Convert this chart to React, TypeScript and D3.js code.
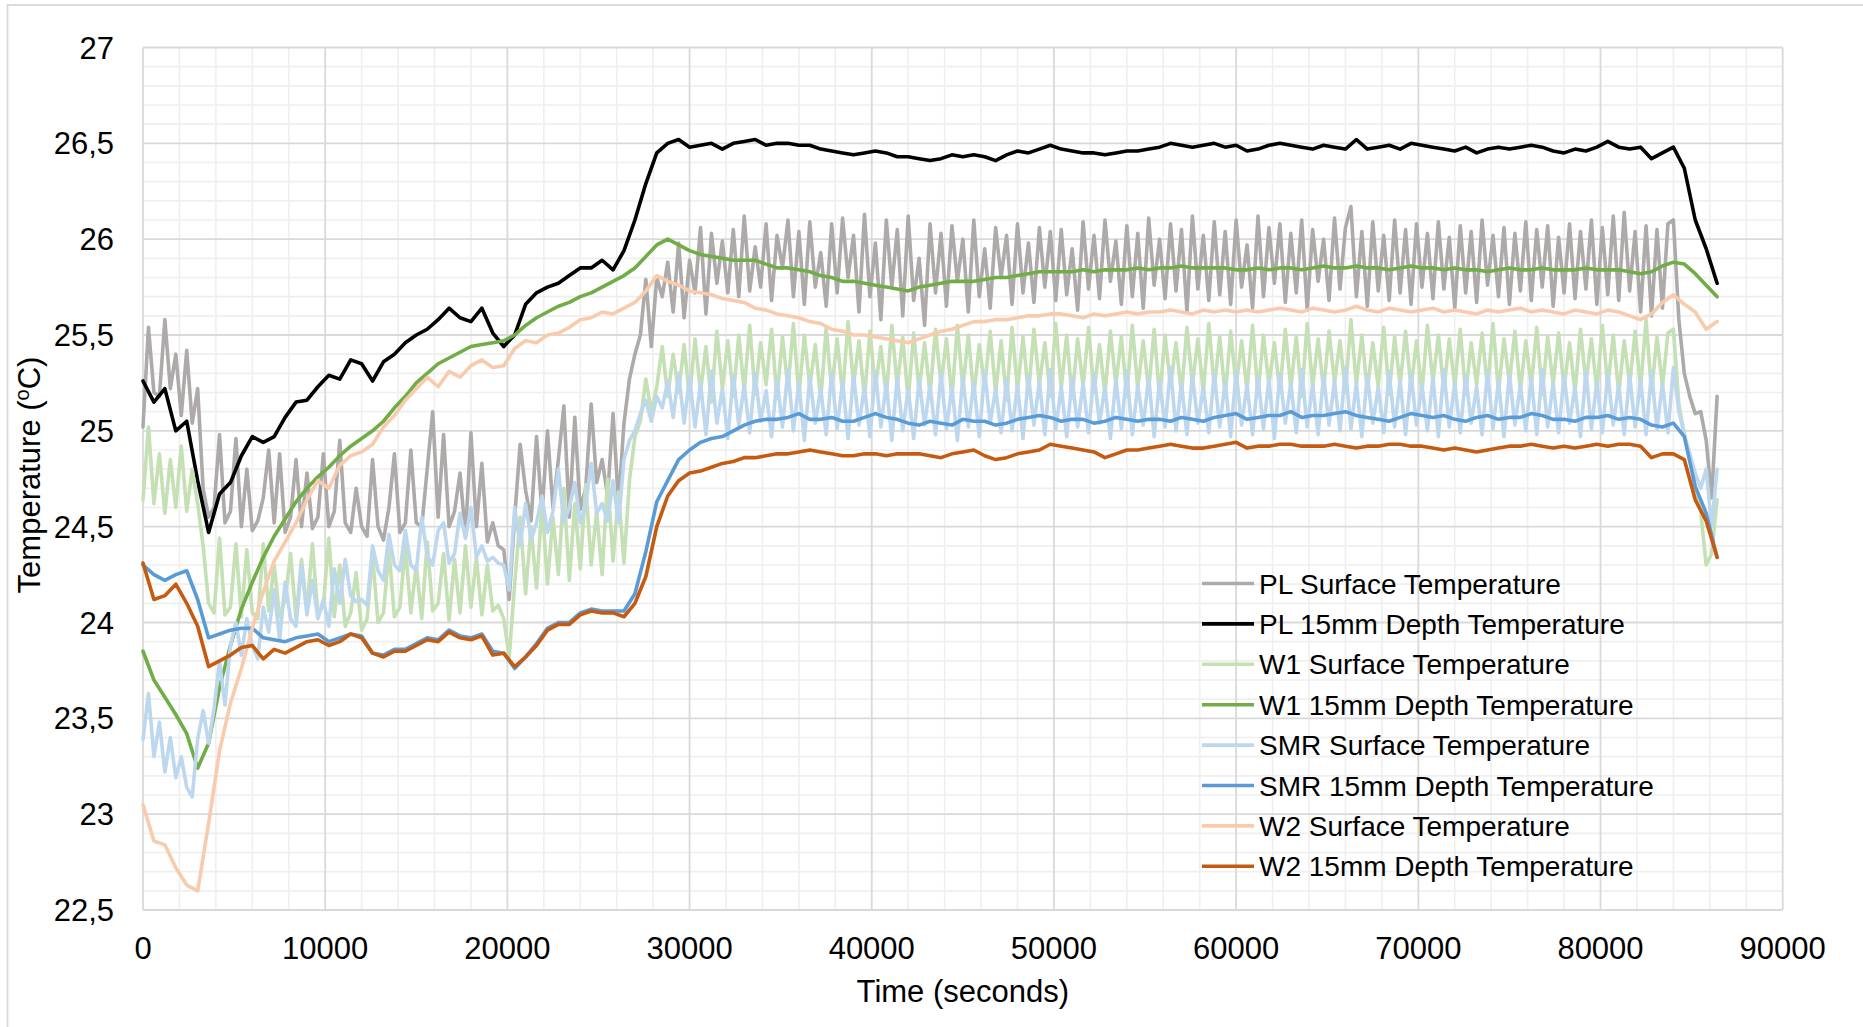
import React from "react";
import * as d3 from "d3";

// Logging intervals (seconds) of the two sensor groups
const SURFACE_STEP = 300;
const DEPTH_STEP = 600;

// PL Surface Temperature (every 300 s)
const plSurface = [
  25.02, 25.54, 25.20, 25.18, 25.58, 25.22, 25.40, 25.08, 25.42, 25.04,
  25.22, 24.70, 24.55, 24.60, 24.98, 24.52, 24.58, 24.96, 24.50, 24.80,
  24.48, 24.53, 24.65, 24.90, 24.52, 24.88, 24.47, 24.55, 24.85, 24.50,
  24.78, 24.49, 24.55, 24.88, 24.50, 24.58, 24.95, 24.52, 24.47, 24.70,
  24.50, 24.45, 24.85, 24.50, 24.43, 24.60, 24.88, 24.47, 24.52, 24.90,
  24.52, 24.50, 24.80, 25.10, 24.55, 24.98, 24.50, 24.58, 24.78, 24.45,
  24.99, 24.50, 24.83, 24.42, 24.52, 24.40, 24.38, 24.12, 24.55, 24.93,
  24.69, 24.53, 24.97, 24.57, 25.00, 24.60, 24.85, 25.13, 24.55, 25.07,
  24.59, 24.70, 25.14, 24.73, 24.85, 24.66, 25.09, 24.62, 25.04, 25.27,
  25.40, 25.50, 25.79, 25.44, 25.80, 25.70, 25.88, 25.62, 25.98, 25.59,
  25.89, 25.72, 26.06, 25.61, 26.03, 25.77, 25.99, 25.72, 26.05, 25.70,
  26.12, 25.73, 25.96, 25.75, 26.08, 25.68, 26.02, 25.85, 26.10, 25.70,
  26.04, 25.66, 26.09, 25.75, 25.93, 25.65, 26.08, 25.72, 26.11, 25.80,
  26.02, 25.62, 26.13, 25.70, 25.98, 25.58, 26.10, 25.75, 26.05, 25.60,
  26.12, 25.68, 25.90, 25.55, 26.08, 25.72, 26.03, 25.65, 26.07, 25.78,
  26.00, 25.62, 26.10, 25.70, 25.95, 25.64, 26.06, 25.80, 26.02, 25.66,
  26.08, 25.72, 25.98, 25.67, 26.06, 25.75, 26.04, 25.68, 26.05, 25.71,
  25.95, 25.63, 26.09, 25.74, 26.02, 25.69, 26.10, 25.78, 25.99, 25.66,
  26.07, 25.70, 26.03, 25.64, 26.11, 25.76, 26.00, 25.69, 26.08, 25.73,
  26.05, 25.62, 26.12, 25.74, 26.02, 25.68, 26.09, 25.71, 26.04, 25.66,
  26.10, 25.75, 25.97, 25.64, 26.12, 25.70, 26.06, 25.77, 26.08, 25.67,
  26.03, 25.72, 26.10, 25.63, 26.05, 25.78, 26.00, 25.68, 26.11, 25.74,
  26.06, 26.17, 25.70, 26.04, 25.65, 26.09, 25.73, 26.02, 25.68, 26.10,
  25.72, 26.05, 25.66, 26.08, 25.75, 26.03, 25.69, 26.09, 25.74, 26.01,
  25.64, 26.07, 25.72, 26.04, 25.67, 26.10, 25.76, 26.02, 25.70, 26.06,
  25.66, 26.03, 25.73, 26.09, 25.68, 26.05, 25.75, 26.07, 25.65, 26.01,
  25.72, 26.08, 25.69, 26.04, 25.74, 26.10, 25.66, 26.06, 25.71, 26.12,
  25.68, 26.14, 25.73, 26.04, 25.62, 26.07, 25.60, 26.05, 25.64, 26.08,
  26.10, 25.58, 25.30, 25.18, 25.09, 25.10, 24.95, 24.65, 25.18,
];

// PL 15mm Depth Temperature (every 600 s)
const plDepth = [
  25.26, 25.15, 25.22, 25.00, 25.05, 24.74, 24.47, 24.67, 24.73, 24.87,
  24.97, 24.94, 24.97, 25.07, 25.15, 25.16, 25.23, 25.29, 25.27, 25.37,
  25.35, 25.26, 25.36, 25.40, 25.46, 25.50, 25.53, 25.58, 25.64, 25.59,
  25.57, 25.64, 25.51, 25.44, 25.50, 25.66, 25.72, 25.75, 25.77, 25.81,
  25.85, 25.85, 25.89, 25.84, 25.94, 26.10, 26.29, 26.45, 26.50, 26.52,
  26.48, 26.49, 26.50, 26.47, 26.50, 26.51, 26.52, 26.49, 26.50, 26.50,
  26.49, 26.49, 26.47, 26.46, 26.45, 26.44, 26.45, 26.46, 26.45, 26.43,
  26.43, 26.42, 26.41, 26.42, 26.44, 26.43, 26.44, 26.43, 26.41, 26.44,
  26.46, 26.45, 26.47, 26.49, 26.47, 26.46, 26.45, 26.45, 26.44, 26.45,
  26.46, 26.46, 26.47, 26.48, 26.50, 26.49, 26.48, 26.49, 26.50, 26.48,
  26.49, 26.46, 26.47, 26.49, 26.50, 26.49, 26.48, 26.47, 26.49, 26.48,
  26.47, 26.52, 26.47, 26.48, 26.49, 26.47, 26.50, 26.49, 26.48, 26.47,
  26.46, 26.48, 26.45, 26.47, 26.48, 26.47, 26.48, 26.49, 26.48, 26.46,
  26.45, 26.47, 26.46, 26.48, 26.51, 26.48, 26.47, 26.48, 26.42, 26.45,
  26.48, 26.37, 26.10, 25.95, 25.77,
];

// W1 Surface Temperature (every 300 s)
const w1Surface = [
  24.64, 25.02, 24.62, 24.88, 24.57, 24.85, 24.60, 24.92, 24.58, 24.80,
  24.62, 24.40, 24.10, 24.05, 24.44, 24.04, 24.08, 24.41, 24.03, 24.38,
  24.05, 24.02, 24.41, 24.06, 24.30, 24.03, 24.12, 24.36, 24.02, 24.33,
  24.06, 24.41, 24.04, 24.09, 24.44, 24.03, 24.30, 23.98, 24.05, 24.26,
  23.96, 24.02, 24.35, 24.00, 24.05, 24.38, 24.03, 24.08, 24.40, 24.05,
  24.30, 24.02, 24.42, 24.06, 24.10, 24.36, 24.01, 24.33, 24.05, 24.40,
  24.08, 24.34, 24.04, 24.30, 24.06, 24.09, 24.02, 23.82, 24.20, 24.55,
  24.15, 24.50, 24.18, 24.62, 24.20, 24.55, 24.25, 24.70, 24.22, 24.62,
  24.28, 24.72, 24.30, 24.58, 24.25, 24.75, 24.32, 24.68, 24.31, 24.74,
  24.97, 25.05, 25.27, 25.10, 25.23, 25.44, 25.18, 25.40, 25.20, 25.45,
  25.17, 25.48, 25.20, 25.44, 25.15, 25.52, 25.22, 25.47, 25.18, 25.50,
  25.21, 25.55, 25.19, 25.46, 25.24, 25.53, 25.17, 25.49, 25.22, 25.56,
  25.18, 25.50, 25.23, 25.45, 25.16, 25.54, 25.21, 25.48, 25.19, 25.57,
  25.24, 25.47, 25.17, 25.52, 25.22, 25.44, 25.18, 25.55, 25.23, 25.49,
  25.16, 25.51, 25.21, 25.46, 25.19, 25.53, 25.24, 25.48, 25.17, 25.55,
  25.22, 25.50, 25.18, 25.45, 25.23, 25.52, 25.20, 25.47, 25.16, 25.54,
  25.21, 25.49, 25.19, 25.53, 25.24, 25.46, 25.18, 25.56, 25.22, 25.50,
  25.17, 25.48, 25.23, 25.54, 25.20, 25.45, 25.19, 25.52, 25.24, 25.49,
  25.18, 25.55, 25.22, 25.47, 25.21, 25.53, 25.17, 25.50, 25.23, 25.46,
  25.19, 25.54, 25.24, 25.48, 25.20, 25.56, 25.22, 25.49, 25.18, 25.52,
  25.23, 25.47, 25.21, 25.55, 25.19, 25.50, 25.24, 25.46, 25.20, 25.53,
  25.22, 25.49, 25.18, 25.56, 25.23, 25.48, 25.21, 25.52, 25.25, 25.47,
  25.20, 25.58, 25.24, 25.50, 25.21, 25.46, 25.23, 25.54, 25.19, 25.49,
  25.24, 25.52, 25.22, 25.47, 25.20, 25.55, 25.25, 25.50, 25.21, 25.48,
  25.23, 25.53, 25.19, 25.46, 25.24, 25.51, 25.22, 25.56, 25.20, 25.48,
  25.25, 25.52, 25.21, 25.47, 25.23, 25.54, 25.19, 25.49, 25.24, 25.51,
  25.22, 25.46, 25.20, 25.53, 25.25, 25.48, 25.21, 25.55, 25.23, 25.50,
  25.19, 25.47, 25.24, 25.52, 25.22, 25.58, 25.20, 25.49, 25.23, 25.51,
  25.53, 25.14, 24.98, 24.86, 24.70, 24.58, 24.30, 24.36, 24.64,
];

// W1 15mm Depth Temperature (every 600 s)
const w1Depth = [
  23.85, 23.70, 23.61, 23.52, 23.42, 23.24, 23.37, 23.66, 23.88, 24.07,
  24.21, 24.34, 24.45, 24.54, 24.63, 24.70, 24.76, 24.81, 24.87, 24.92,
  24.96, 25.00, 25.05, 25.12, 25.18, 25.25, 25.30, 25.35, 25.38, 25.41,
  25.44, 25.45, 25.46, 25.47, 25.50, 25.55, 25.59, 25.62, 25.65, 25.67,
  25.70, 25.72, 25.75, 25.78, 25.81, 25.85, 25.91, 25.97, 26.00, 25.97,
  25.94, 25.92, 25.91, 25.90, 25.89, 25.89, 25.89, 25.87, 25.85, 25.85,
  25.84, 25.83, 25.81, 25.80, 25.78, 25.78, 25.77, 25.76, 25.75, 25.74,
  25.73, 25.75, 25.76, 25.77, 25.78, 25.78, 25.78, 25.79, 25.80, 25.80,
  25.81, 25.82, 25.83, 25.83, 25.83, 25.83, 25.84, 25.83, 25.84, 25.84,
  25.84, 25.85, 25.84, 25.85, 25.85, 25.86, 25.85, 25.85, 25.85, 25.85,
  25.84, 25.84, 25.85, 25.84, 25.85, 25.85, 25.84, 25.85, 25.86, 25.85,
  25.85, 25.86, 25.85, 25.85, 25.84, 25.85, 25.86, 25.85, 25.85, 25.84,
  25.85, 25.84, 25.84, 25.83, 25.84, 25.85, 25.84, 25.84, 25.85, 25.84,
  25.84, 25.84, 25.85, 25.84, 25.84, 25.84, 25.83, 25.82, 25.83, 25.86,
  25.88, 25.87, 25.82, 25.76, 25.70,
];

// SMR Surface Temperature (every 300 s)
const smrSurface = [
  23.39, 23.63, 23.30, 23.48, 23.22, 23.40, 23.19, 23.30, 23.14, 23.09,
  23.39, 23.54, 23.37, 23.55, 23.80, 23.57, 23.88, 24.00, 23.83, 24.02,
  23.88, 23.81, 24.08, 23.95, 24.17, 23.91, 24.21, 24.02, 23.98, 24.30,
  24.04, 24.22, 24.02, 24.12, 23.98, 24.28, 24.10, 24.33, 24.14, 24.11,
  24.12, 24.09, 24.40, 24.27, 24.22, 24.46, 24.30, 24.27, 24.48, 24.30,
  24.27, 24.55, 24.35, 24.30, 24.48, 24.52, 24.31, 24.36, 24.57, 24.44,
  24.60, 24.34, 24.40, 24.32, 24.34, 24.31, 24.30, 24.17, 24.60, 24.40,
  24.62, 24.43, 24.52, 24.66, 24.47, 24.58, 24.80, 24.52, 24.60, 24.73,
  24.52, 24.62, 24.83, 24.57, 24.62, 24.53, 24.74, 24.52, 24.85, 24.95,
  25.00, 25.09, 25.16, 25.05, 25.18, 25.12, 25.26, 25.07, 25.30, 25.04,
  25.28, 25.02, 25.25, 24.98, 25.31, 25.04, 25.22, 24.96, 25.29, 25.03,
  25.24, 24.99, 25.30, 25.05, 25.21, 24.97, 25.27, 25.02, 25.32, 25.00,
  25.25, 24.95, 25.28, 25.04, 25.22, 24.98, 25.30, 25.01, 25.26, 24.96,
  25.29, 25.03, 25.23, 24.97, 25.31, 25.02, 25.25, 24.95, 25.28, 25.00,
  25.22, 24.96, 25.27, 25.03, 25.24, 24.98, 25.30, 25.01, 25.23, 24.95,
  25.28, 25.02, 25.25, 24.97, 25.31, 25.04, 25.22, 24.99, 25.27, 25.00,
  25.24, 24.96, 25.29, 25.03, 25.26, 24.98, 25.32, 25.01, 25.23, 24.97,
  25.28, 25.02, 25.25, 24.99, 25.30, 25.04, 25.23, 24.96, 25.27, 25.01,
  25.31, 24.98, 25.24, 25.03, 25.28, 24.97, 25.26, 25.02, 25.33, 25.00,
  25.25, 24.98, 25.29, 25.04, 25.23, 24.99, 25.30, 25.02, 25.26, 24.97,
  25.31, 25.03, 25.24, 24.98, 25.28, 25.01, 25.27, 24.96, 25.30, 25.04,
  25.25, 24.99, 25.32, 25.02, 25.24, 24.98, 25.29, 25.03, 25.26, 25.00,
  25.33, 25.01, 25.25, 24.97, 25.29, 25.04, 25.23, 24.99, 25.31, 25.02,
  25.26, 24.98, 25.30, 25.03, 25.24, 25.00, 25.28, 24.97, 25.32, 25.02,
  25.25, 24.99, 25.29, 25.04, 25.23, 24.98, 25.31, 25.01, 25.26, 24.97,
  25.30, 25.03, 25.24, 25.00, 25.28, 24.98, 25.32, 25.02, 25.25, 24.99,
  25.29, 25.04, 25.23, 24.97, 25.31, 25.01, 25.26, 24.99, 25.30, 25.03,
  25.24, 24.98, 25.29, 25.02, 25.27, 24.98, 25.31, 25.01, 25.25, 24.99,
  25.33, 25.10, 24.98, 24.88, 24.78, 24.70, 24.80, 24.50, 24.80,
];

// SMR 15mm Depth Temperature (every 600 s)
const smrDepth = [
  24.30, 24.25, 24.22, 24.25, 24.27, 24.12, 23.92, 23.94, 23.96, 23.97,
  23.97, 23.92, 23.91, 23.90, 23.92, 23.93, 23.94, 23.90, 23.92, 23.94,
  23.93, 23.84, 23.83, 23.86, 23.86, 23.89, 23.92, 23.91, 23.96, 23.93,
  23.92, 23.94, 23.85, 23.84, 23.76, 23.82, 23.89, 23.97, 24.00, 24.00,
  24.05, 24.07, 24.06, 24.06, 24.06, 24.15, 24.37, 24.63, 24.74, 24.85,
  24.90, 24.94, 24.96, 24.97, 25.00, 25.03, 25.05, 25.06, 25.06, 25.07,
  25.09, 25.06, 25.06, 25.07, 25.05, 25.05, 25.07, 25.09, 25.07, 25.06,
  25.04, 25.03, 25.05, 25.04, 25.03, 25.06, 25.05, 25.05, 25.03, 25.04,
  25.06, 25.07, 25.08, 25.07, 25.05, 25.06, 25.06, 25.04, 25.05, 25.07,
  25.06, 25.05, 25.06, 25.06, 25.05, 25.07, 25.06, 25.05, 25.07, 25.08,
  25.09, 25.06, 25.07, 25.08, 25.08, 25.10, 25.07, 25.08, 25.08, 25.09,
  25.10, 25.08, 25.07, 25.06, 25.05, 25.07, 25.09, 25.08, 25.07, 25.08,
  25.06, 25.05, 25.07, 25.08, 25.06, 25.07, 25.07, 25.09, 25.08, 25.06,
  25.06, 25.05, 25.07, 25.07, 25.08, 25.06, 25.07, 25.06, 25.03, 25.02,
  25.04, 24.97, 24.71, 24.57, 24.34,
];

// W2 Surface Temperature (every 600 s)
const w2Surface = [
  23.05, 22.86, 22.84, 22.72, 22.63, 22.60, 22.95, 23.33, 23.58, 23.76,
  23.97, 24.16, 24.32, 24.42, 24.52, 24.64, 24.74, 24.70, 24.82, 24.87,
  24.89, 24.93, 25.02, 25.08, 25.16, 25.22, 25.28, 25.23, 25.31, 25.28,
  25.34, 25.37, 25.33, 25.34, 25.43, 25.47, 25.46, 25.50, 25.51, 25.54,
  25.58, 25.59, 25.62, 25.61, 25.64, 25.67, 25.73, 25.81, 25.78, 25.76,
  25.73, 25.72, 25.71, 25.69, 25.68, 25.67, 25.64, 25.63, 25.61, 25.60,
  25.59, 25.57, 25.56, 25.53, 25.52, 25.50, 25.50, 25.49, 25.48, 25.47,
  25.46, 25.48, 25.50, 25.52, 25.53, 25.55, 25.57, 25.57, 25.58, 25.58,
  25.59, 25.60, 25.60, 25.61, 25.61, 25.60, 25.59, 25.61, 25.60, 25.61,
  25.62, 25.61, 25.62, 25.62, 25.63, 25.62, 25.61, 25.63, 25.62, 25.63,
  25.62, 25.63, 25.62, 25.63, 25.64, 25.63, 25.62, 25.64, 25.63, 25.62,
  25.63, 25.65, 25.63, 25.62, 25.64, 25.63, 25.62, 25.63, 25.64, 25.62,
  25.63, 25.62, 25.61, 25.63, 25.62, 25.63, 25.64, 25.62, 25.63, 25.62,
  25.61, 25.63, 25.62, 25.61, 25.63, 25.62, 25.60, 25.58, 25.61, 25.67,
  25.71, 25.66, 25.62, 25.53, 25.57,
];

// W2 15mm Depth Temperature (every 600 s)
const w2Depth = [
  24.31, 24.12, 24.14, 24.20, 24.10, 23.98, 23.77, 23.80, 23.83, 23.87,
  23.88, 23.81, 23.86, 23.84, 23.87, 23.90, 23.91, 23.88, 23.90, 23.94,
  23.92, 23.84, 23.82, 23.85, 23.85, 23.88, 23.91, 23.90, 23.95, 23.92,
  23.91, 23.93, 23.83, 23.84, 23.77, 23.82, 23.88, 23.96, 23.99, 23.99,
  24.04, 24.06, 24.05, 24.05, 24.03, 24.10, 24.24, 24.50, 24.66, 24.74,
  24.78, 24.79, 24.81, 24.83, 24.84, 24.86, 24.86, 24.87, 24.88, 24.88,
  24.89, 24.90, 24.89, 24.88, 24.87, 24.87, 24.88, 24.88, 24.87, 24.88,
  24.88, 24.88, 24.87, 24.86, 24.88, 24.89, 24.90, 24.87, 24.85, 24.86,
  24.88, 24.89, 24.90, 24.93, 24.92, 24.91, 24.90, 24.89, 24.86, 24.88,
  24.90, 24.90, 24.91, 24.92, 24.93, 24.92, 24.91, 24.91, 24.92, 24.93,
  24.94, 24.91, 24.92, 24.92, 24.93, 24.93, 24.92, 24.92, 24.92, 24.93,
  24.92, 24.91, 24.92, 24.92, 24.93, 24.93, 24.92, 24.92, 24.91, 24.90,
  24.91, 24.90, 24.89, 24.90, 24.91, 24.92, 24.92, 24.93, 24.92, 24.91,
  24.92, 24.91, 24.92, 24.93, 24.92, 24.93, 24.93, 24.92, 24.86, 24.88,
  24.88, 24.85, 24.64, 24.53, 24.34,
];

const seriesNames = [
  "PL Surface Temperature",
  "PL 15mm Depth Temperature",
  "W1 Surface Temperature",
  "W1 15mm Depth Temperature",
  "SMR Surface Temperature",
  "SMR 15mm Depth Temperature",
  "W2 Surface Temperature",
  "W2 15mm Depth Temperature",
];
const seriesColors = [
  "#aeaaaa", "#000000", "#c5e0b4", "#70ad47",
  "#bdd7ee", "#5b9bd5", "#f8cbad", "#c55a11",
];

const xTicks = [0, 10000, 20000, 30000, 40000, 50000, 60000, 70000, 80000, 90000];
const yTicks = [22.5, 23, 23.5, 24, 24.5, 25, 25.5, 26, 26.5, 27];

const xTitle = "Time (seconds)";

const FONT = "'Liberation Sans', Arial, Helvetica, sans-serif";

export default function App() {
  const W = 1863;
  const H = 1027;
  const plot = { left: 143, right: 1782.7, top: 47.5, bottom: 910 };

  const x = d3.scaleLinear().domain([0, 90000]).range([plot.left, plot.right]);
  const y = d3.scaleLinear().domain([22.5, 27]).range([plot.bottom, plot.top]);

  const series = [
    { values: plSurface, step: SURFACE_STEP },
    { values: plDepth, step: DEPTH_STEP },
    { values: w1Surface, step: SURFACE_STEP },
    { values: w1Depth, step: DEPTH_STEP },
    { values: smrSurface, step: SURFACE_STEP },
    { values: smrDepth, step: DEPTH_STEP },
    { values: w2Surface, step: DEPTH_STEP },
    { values: w2Depth, step: DEPTH_STEP },
  ].map((s, i) => ({ ...s, name: seriesNames[i], color: seriesColors[i] }));

  const lineFor = (step: number) =>
    d3
      .line<number>()
      .x((_, i) => x(i * step))
      .y((v) => y(v))
      .curve(d3.curveLinear);

  const minorX = d3.range(0, 90001, 2000).filter((t) => t % 10000 !== 0);
  const minorY = d3
    .range(0, 46)
    .map((k) => 22.5 + k * 0.1)
    .filter((v) => Math.abs(v * 2 - Math.round(v * 2)) > 1e-6);

  const fmt = (v: number) => String(v).replace(".", ",");

  const legendX = 1202;
  const legendTop = 583.5;
  const legendGap = 40.4;

  return (
    <svg
      width={W}
      height={H}
      style={{ position: "absolute", left: 0, top: 0, background: "#fff" }}
      fontFamily={FONT}
    >
      <rect x={0} y={0} width={W} height={H} fill="#ffffff" />
      <rect x={7.5} y={5} width={W + 20} height={H + 20} fill="none" stroke="#d9d9d9" strokeWidth={1.8} />

      {/* minor grid */}
      <g stroke="#efefef" strokeWidth={1.6}>
        {minorX.map((t) => (
          <line key={`mx${t}`} x1={x(t)} x2={x(t)} y1={plot.top} y2={plot.bottom} />
        ))}
        {minorY.map((v) => (
          <line key={`my${v.toFixed(1)}`} x1={plot.left} x2={plot.right} y1={y(v)} y2={y(v)} />
        ))}
      </g>

      {/* major grid */}
      <g stroke="#d9d9d9" strokeWidth={1.8}>
        {xTicks.map((t) => (
          <line key={`gx${t}`} x1={x(t)} x2={x(t)} y1={plot.top} y2={plot.bottom} />
        ))}
        {yTicks.map((v) => (
          <line key={`gy${v}`} x1={plot.left} x2={plot.right} y1={y(v)} y2={y(v)} />
        ))}
      </g>

      {/* data */}
      <g fill="none" strokeLinejoin="round" strokeLinecap="round">
        {series.map((s) => (
          <path key={s.name} d={lineFor(s.step)(s.values) || ""} stroke={s.color} strokeWidth={3.6} />
        ))}
      </g>

      {/* y tick labels */}
      <g fontSize={31} fill="#000" textAnchor="end">
        {yTicks.map((v) => (
          <text key={`yl${v}`} x={114} y={y(v) + 11}>
            {fmt(v)}
          </text>
        ))}
      </g>

      {/* x tick labels */}
      <g fontSize={31} fill="#000" textAnchor="middle">
        {xTicks.map((t) => (
          <text key={`xl${t}`} x={x(t)} y={959}>
            {t}
          </text>
        ))}
      </g>

      <text x={(plot.left + plot.right) / 2} y={1002} fontSize={31} textAnchor="middle" fill="#000">
        {xTitle}
      </text>

      <text transform="translate(40, 475) rotate(-90)" fontSize={31} textAnchor="middle" fill="#000">
        Temperature (
        <tspan fontSize={20} dy={-11}>o</tspan>
        <tspan dy={11}>C)</tspan>
      </text>

      {/* legend */}
      <g fontSize={28} fill="#000">
        {series.map((s, i) => {
          const ly = legendTop + i * legendGap;
          return (
            <g key={`lg${i}`}>
              <line x1={legendX} x2={legendX + 52} y1={ly} y2={ly} stroke={s.color} strokeWidth={3.6} />
              <text x={legendX + 57} y={ly + 10}>
                {s.name}
              </text>
            </g>
          );
        })}
      </g>
    </svg>
  );
}
